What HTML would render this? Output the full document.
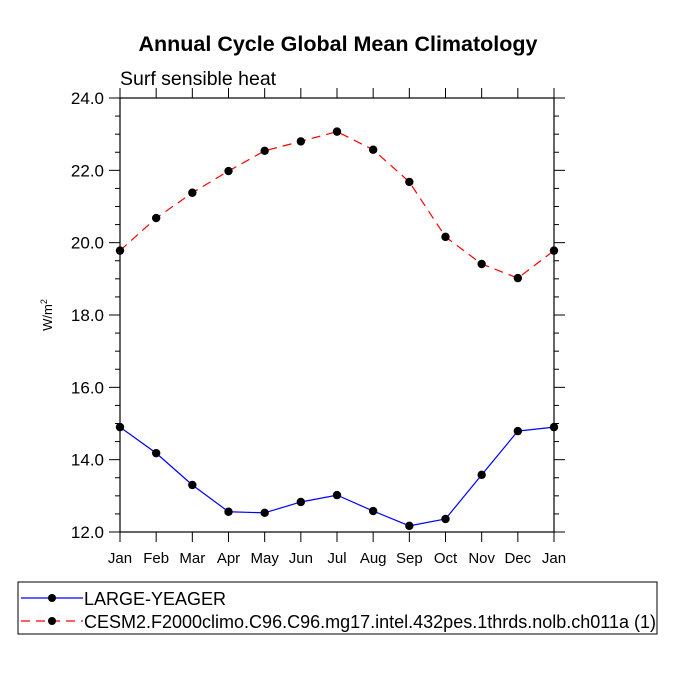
<!DOCTYPE html>
<html><head><meta charset="utf-8"><style>
body{margin:0;background:#fff;}
svg{font-family:"Liberation Sans",Arial,sans-serif;}
</style></head><body>
<svg id="chart" width="675" height="675" viewBox="0 0 675 675">
<text x="338" y="51" text-anchor="middle" font-size="21.5" font-weight="bold">Annual Cycle Global Mean Climatology</text>
<text x="120" y="85" font-size="19.5">Surf sensible heat</text>
<text transform="translate(52,315) rotate(-90)" text-anchor="middle" font-size="13">W/m<tspan dy="-5" font-size="9">2</tspan></text>
<g id="axes"></g>
<g id="series"></g>
<rect x="18" y="582" width="639" height="52" fill="none" stroke="#000" stroke-width="1"/>
<g>
<line x1="21" y1="598" x2="83" y2="598" stroke="#00f" stroke-width="1.2"/>
<circle cx="52" cy="598" r="4" fill="#000"/>
<text x="84" y="605" font-size="18">LARGE-YEAGER</text>
</g>
<g>
<line x1="21" y1="621" x2="83" y2="621" stroke="#f00" stroke-width="1.2" stroke-dasharray="9,6"/>
<circle cx="52" cy="621" r="4" fill="#000"/>
<text x="84" y="628" font-size="18">CESM2.F2000climo.C96.C96.mg17.intel.432pes.1thrds.nolb.ch011a (1)</text>
</g>
</svg>
<script>
const months = ["Jan","Feb","Mar","Apr","May","Jun","Jul","Aug","Sep","Oct","Nov","Dec","Jan"];
const largeYeager = [14.9,14.18,13.3,12.56,12.53,12.83,13.02,12.58,12.17,12.36,13.58,14.79,14.9];
const cesm2 = [19.78,20.68,21.38,21.98,22.54,22.8,23.07,22.57,21.68,20.16,19.41,19.02,19.78];
const yTicks = [12,14,16,18,20,22,24];
const yTickLabels = ["12.0","14.0","16.0","18.0","20.0","22.0","24.0"];

const X0=120,X1=554,Y0=532,Y1=98,YMIN=12,YMAX=24;
const xs=i=>X0+(X1-X0)*i/(months.length-1);
const ys=v=>Y0-(Y0-Y1)*(v-YMIN)/(YMAX-YMIN);
const NS="http://www.w3.org/2000/svg";
function mk(tag,attrs,parent){const e=document.createElementNS(NS,tag);for(const k in attrs)e.setAttribute(k,attrs[k]);parent.appendChild(e);return e;}
const axes=document.getElementById('axes');
const frame=mk('rect',{x:X0,y:Y1,width:X1-X0,height:Y0-Y1,fill:'none',stroke:'#000','stroke-width':1.2},axes);


for(let v=YMIN;v<=YMAX+1e-9;v+=0.5){
  const y=ys(v);const major=Math.abs(v-Math.round(v/2)*2)<1e-6;const L=major?11:5;
  mk('line',{x1:X0-L,y1:y,x2:X0,y2:y,stroke:'#000','stroke-width':1},axes);
  mk('line',{x1:X1,y1:y,x2:X1+L,y2:y,stroke:'#000','stroke-width':1},axes);
}
yTicks.forEach((v,i)=>{
  const t=mk('text',{x:X0-16,y:ys(v)+6,'text-anchor':'end','font-size':17},axes);
  t.textContent=yTickLabels[i];
  
  
});
months.forEach((m,i)=>{
  const x=xs(i);
  mk('line',{x1:x,y1:Y0,x2:x,y2:Y0+10,stroke:'#000','stroke-width':1},axes);
  mk('line',{x1:x,y1:Y1-10,x2:x,y2:Y1,stroke:'#000','stroke-width':1},axes);
  const t=mk('text',{x:x,y:Y0+31,'text-anchor':'middle','font-size':15},axes);
  t.textContent=m;
  
  
});
const ser=document.getElementById('series');
function draw(vals,color,dash,name){
  const g=mk('g',{},ser);
  
  
  const p=mk('polyline',{points:vals.map((v,i)=>xs(i)+','+ys(v)).join(' '),fill:'none',stroke:color,'stroke-width':1.2},g);
  if(dash)p.setAttribute('stroke-dasharray',dash);
  vals.forEach((v,i)=>{
    const c=mk('circle',{cx:xs(i),cy:ys(v),r:4.2,fill:'#000'},g);
    
    
  });
}
draw(largeYeager,'#00f',null,'series-large-yeager');
draw(cesm2,'#f00','9,6','series-cesm2');
</script>
</body></html>
